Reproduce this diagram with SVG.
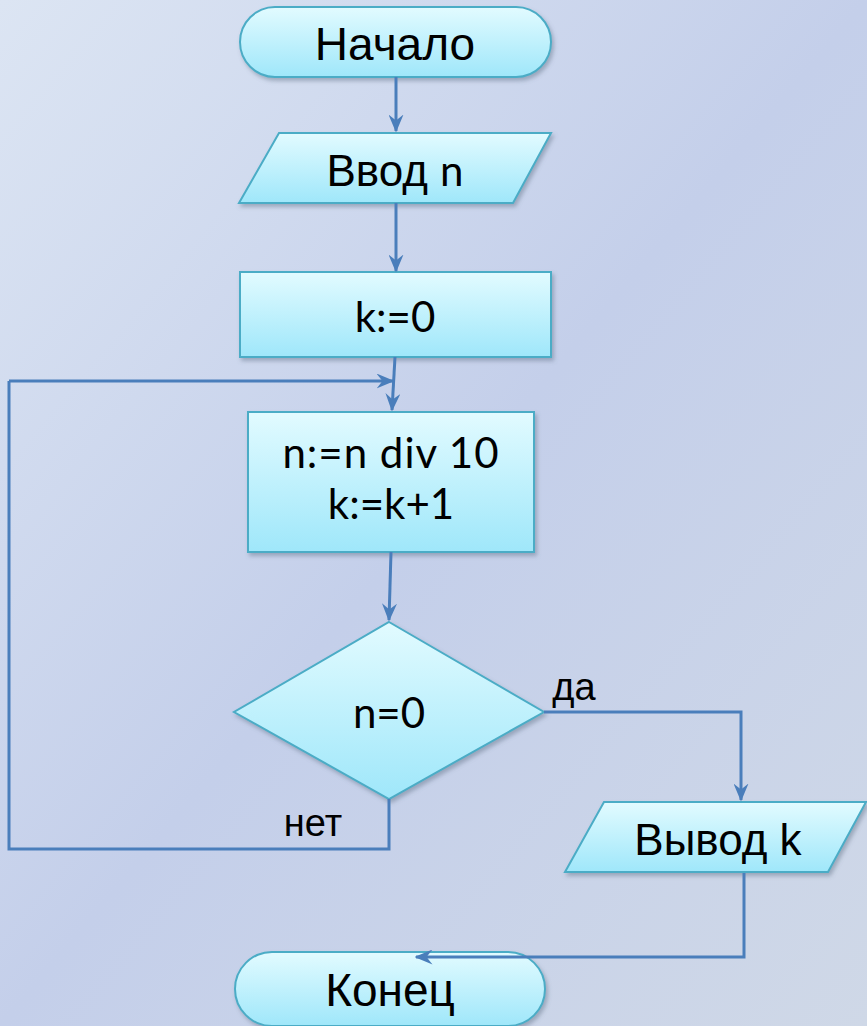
<svg xmlns="http://www.w3.org/2000/svg" width="867" height="1026" viewBox="0 0 867 1026">
<style>
.node{fill:url(#nodeFill);stroke:#4bacc6;stroke-width:2;filter:url(#shadow)}
.lbl{font-family:"Liberation Sans",Arial,sans-serif;fill:#000;text-anchor:middle}
.cal{font-family:Lato,"Open Sans",sans-serif;fill:#000;text-anchor:middle}
.edge{fill:none;stroke:#4a7ebb;stroke-width:3}
</style>
<defs>
<linearGradient id="bg" x1="0" y1="0" x2="1" y2="1">
<stop offset="0" stop-color="#dce5f3"/>
<stop offset="0.5" stop-color="#c4cfea"/>
<stop offset="1" stop-color="#cfd8e7"/>
</linearGradient>
<linearGradient id="nodeFill" x1="0" y1="0" x2="0" y2="1">
<stop offset="0" stop-color="#e2fbff"/>
<stop offset="1" stop-color="#9fe7fa"/>
</linearGradient>
<filter id="shadow" x="-10%" y="-10%" width="130%" height="140%">
<feDropShadow dx="2" dy="3" stdDeviation="2" flood-color="#5a6a80" flood-opacity="0.45"/>
</filter>
<marker id="arr" viewBox="0 0 12 10" refX="11" refY="5" markerWidth="6" markerHeight="5" orient="auto" markerUnits="strokeWidth">
<path d="M0,0 L12,5 L0,10 L4,5 z" fill="#4a7ebb"/>
</marker>
</defs>
<rect width="867" height="1026" fill="url(#bg)"/>
<g id="start">
<rect class="node" x="240" y="7" width="311" height="70" rx="35" ry="35"/>
<text class="lbl" x="395" y="60" font-size="46">Начало</text>
</g>
<g id="input">
<polygon class="node" points="279,133 551,133 513,203 239,203"/>
<text class="lbl" x="395" y="186" font-size="44">Ввод <tspan font-family="Lato, sans-serif" font-size="42">n</tspan></text>
</g>
<g id="init">
<rect class="node" x="240" y="272" width="311" height="85"/>
<text class="cal" x="395" y="332" font-size="42">k:=0</text>
</g>
<g id="body">
<rect class="node" x="248" y="412" width="286" height="140"/>
<text class="cal" x="391" y="468" font-size="42" letter-spacing="1">n:=n div 10</text>
<text class="cal" x="391" y="519" font-size="42">k:=k+1</text>
</g>
<g id="cond">
<polygon class="node" points="389,622 544,712 389,799 234,712"/>
<text class="cal" x="389" y="728" font-size="42">n=0</text>
</g>
<g id="output">
<polygon class="node" points="604,802 866,802 828,872 565,872"/>
<text class="lbl" x="718" y="855" font-size="44">Вывод k</text>
</g>
<g id="end">
<rect class="node" x="235" y="952" width="310" height="74" rx="37" ry="37"/>
<text class="lbl" x="390" y="1006" font-size="46">Конец</text>
</g>
<g id="labels">
<text class="lbl" x="574" y="700" font-size="38">да</text>
<text class="lbl" x="313" y="836" font-size="38">нет</text>
</g>
<g id="connectors">
<path class="edge" d="M396,77 L396,131" marker-end="url(#arr)"/>
<path class="edge" d="M396,203 L396,271" marker-end="url(#arr)"/>
<path class="edge" d="M395,357 L392,410" marker-end="url(#arr)"/>
<path class="edge" d="M9,381 L393,381" marker-end="url(#arr)"/>
<path class="edge" d="M391,552 L389,620" marker-end="url(#arr)"/>
<path class="edge" d="M544,712 L741,712 L741,800" marker-end="url(#arr)"/>
<path class="edge" d="M389,799 L389,849 L9,849 L9,381"/>
<path class="edge" d="M744,873 L744,957 L416,957" marker-end="url(#arr)"/>
</g>
</svg>
